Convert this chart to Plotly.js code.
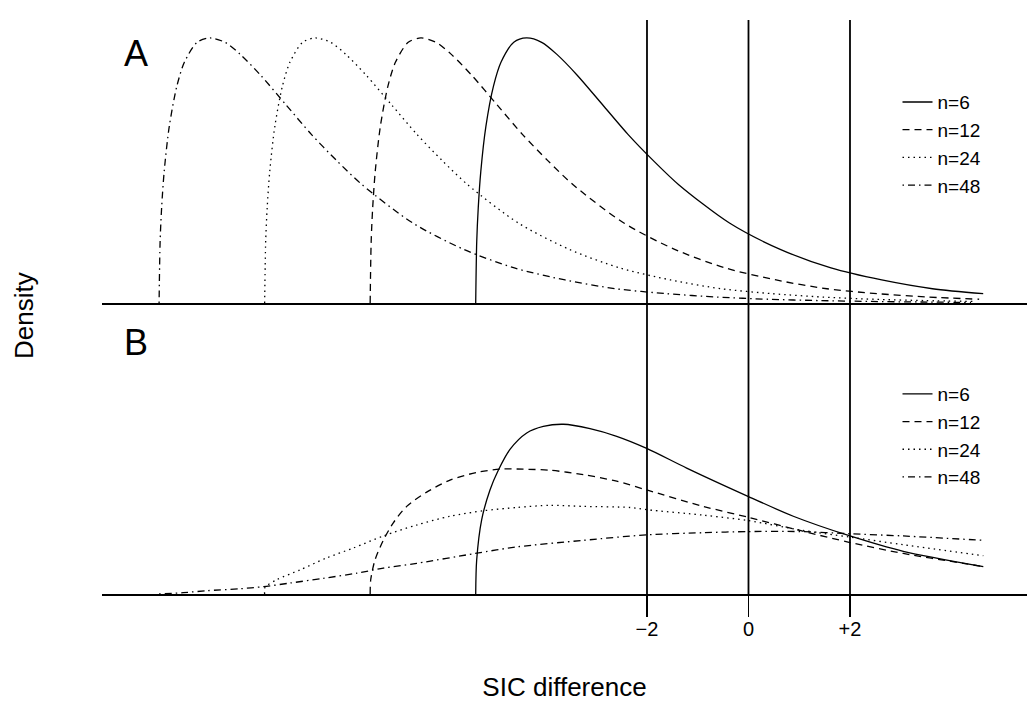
<!DOCTYPE html>
<html>
<head>
<meta charset="utf-8">
<script src="https://cdn.plot.ly/plotly-3.0.1.min.js"></script>
<style>html,body{margin:0;padding:0;background:#fff;}#chart{width:1027px;height:702px;}</style>
</head>
<body>
<div id="chart"></div>
<script>
// ---------- data ----------
var seriesNames = ["n=6", "n=12", "n=24", "n=48"];
var tickValues = [-2, 0, 2];
var tickLabels = ["\u22122", "0", "+2"];

// Panel A densities (same profile for every n, shifted start)
var densA = [0, 0.056, 0.087, 0.120, 0.161, 0.198, 0.220, 0.238, 0.242, 0.238, 0.227, 0.208, 0.181, 0.154, 0.130, 0.108, 0.073, 0.049, 0.032, 0.021, 0.013, 0.0085, 0.0054, 0.0034, 0.0022, 0.0014, 0.0009, 0.0005];
var xA6  = [-5.375, -5.355, -5.325, -5.275, -5.175, -5.025, -4.875, -4.625, -4.375, -4.075, -3.775, -3.375, -2.875, -2.375, -1.875, -1.375, -0.375, 0.625, 1.625, 2.625, 3.625, 4.625];
var xA12 = [-7.455, -7.435, -7.405, -7.355, -7.255, -7.105, -6.955, -6.705, -6.455, -6.155, -5.855, -5.455, -4.955, -4.455, -3.955, -3.455, -2.455, -1.455, -0.455, 0.545, 1.545, 2.545, 3.545, 4.545];
var xA24 = [-9.534, -9.514, -9.484, -9.434, -9.334, -9.184, -9.034, -8.784, -8.534, -8.234, -7.934, -7.534, -7.034, -6.534, -6.034, -5.534, -4.534, -3.534, -2.534, -1.534, -0.534, 0.466, 1.466, 2.466, 3.466, 4.466];
var xA48 = [-11.614, -11.594, -11.564, -11.514, -11.414, -11.264, -11.114, -10.864, -10.614, -10.314, -10.014, -9.614, -9.114, -8.614, -8.114, -7.614, -6.614, -5.614, -4.614, -3.614, -2.614, -1.614, -0.614, 0.386, 1.386, 2.386, 3.386, 4.386];
var yA6  = densA.slice(0, 22);
var yA12 = densA.slice(0, 24);
var yA24 = densA.slice(0, 26);
var yA48 = densA.slice(0, 28);

// Panel B
var xB6  = [-5.375, -5.356, -5.257, -5.094, -4.930, -4.700, -4.370, -4.043, -3.649, -3.123, -2.597, -2.006, -1.218, 0.000, 0.883, 2.000, 3.050, 4.627];
var yB6  = [0, 0.031, 0.068, 0.095, 0.113, 0.132, 0.147, 0.153, 0.155, 0.151, 0.144, 0.133, 0.115, 0.089, 0.071, 0.053, 0.039, 0.025];
var xB12 = [-7.455, -7.444, -7.360, -7.196, -6.999, -6.735, -6.341, -5.882, -5.356, -4.897, -4.437, -3.911, -3.255, -2.597, -2.006, -0.891, 0.000, 1.015, 2.000, 3.050, 4.233, 4.627];
var yB12 = [0, 0.013, 0.031, 0.049, 0.065, 0.080, 0.093, 0.104, 0.111, 0.114, 0.114, 0.113, 0.109, 0.103, 0.095, 0.080, 0.070, 0.058, 0.047, 0.037, 0.028, 0.025];
var xB24 = [-9.534, -9.527, -9.297, -8.837, -8.311, -7.787, -7.196, -6.538, -5.882, -5.226, -4.567, -3.911, -3.255, -2.335, -2.006, -0.891, 0.000, 1.080, 2.000, 3.050, 4.627];
var yB24 = [0, 0.006, 0.013, 0.022, 0.033, 0.042, 0.053, 0.063, 0.071, 0.076, 0.079, 0.081, 0.080, 0.079, 0.077, 0.072, 0.067, 0.058, 0.052, 0.045, 0.035];
var xB48 = [-11.614, -11.137, -10.676, -10.020, -9.561, -9.035, -8.378, -7.720, -7.196, -6.538, -5.389, -4.567, -3.255, -2.006, -0.891, 0.000, 1.015, 2.000, 3.050, 4.627];
var yB48 = [0, 0.0012, 0.003, 0.0048, 0.0067, 0.010, 0.0143, 0.019, 0.0236, 0.028, 0.037, 0.043, 0.049, 0.054, 0.056, 0.057, 0.057, 0.055, 0.053, 0.049];

// ---------- styles ----------
var dashes = ["solid", "7px,5px", "1.5px,4px", "1.5px,4px,7px,4px"];
var FONT = "Liberation Sans, Arial, Helvetica, sans-serif";

function mk(x, y, i, xa, ya, leg) {
  return {
    type: "scatter", mode: "lines", x: x, y: y, name: seriesNames[i],
    xaxis: xa, yaxis: ya, legend: leg,
    line: {color: "#000", width: 1.3, dash: dashes[i], shape: "spline", smoothing: 0.8},
    hoverinfo: "skip"
  };
}

var traces = [
  mk(xA6, yA6, 0, "x2", "y", "legend"),
  mk(xA12, yA12, 1, "x2", "y", "legend"),
  mk(xA24, yA24, 2, "x2", "y", "legend"),
  mk(xA48, yA48, 3, "x2", "y", "legend"),
  mk(xB6, yB6, 0, "x", "y2", "legend2"),
  mk(xB12, yB12, 1, "x", "y2", "legend2"),
  mk(xB24, yB24, 2, "x", "y2", "legend2"),
  mk(xB48, yB48, 3, "x", "y2", "legend2")
];

var yRange = [0, 0.2584];
var shapes = tickValues.map(function (v) {
  return {type: "line", xref: "x", yref: "paper", x0: v, x1: v, y0: 0, y1: 1,
          line: {color: "#000", width: 1.8}};
});

var layout = {
  width: 1027, height: 702,
  margin: {l: 102, r: 0, t: 20, b: 108},
  paper_bgcolor: "#fff", plot_bgcolor: "#fff",
  font: {family: FONT, color: "#000"},
  showlegend: true,
  xaxis: {
    range: [-12.739, 5.488], anchor: "y2",
    showline: true, linecolor: "#000", linewidth: 1.8,
    ticks: "outside", ticklen: 21, tickwidth: 1.8, tickcolor: "#000",
    tickvals: tickValues, ticktext: tickLabels, tickfont: {size: 20, family: FONT},
    ticklabelstandoff: -5,
    showgrid: false, zeroline: false,
    title: {text: "SIC difference", font: {size: 26, family: FONT}, standoff: 42}
  },
  xaxis2: {
    matches: "x", anchor: "y",
    showline: true, linecolor: "#000", linewidth: 1.8,
    showticklabels: false, ticks: "", showgrid: false, zeroline: false
  },
  yaxis: {domain: [0.507, 1], range: yRange, showgrid: false, zeroline: false,
          showticklabels: false, ticks: "", showline: false},
  yaxis2: {domain: [0, 0.493], range: yRange, showgrid: false, zeroline: false,
           showticklabels: false, ticks: "", showline: false},
  legend: {x: 0.860, y: 0.890, xanchor: "left", yanchor: "top",
           font: {size: 19, family: FONT}, bgcolor: "rgba(0,0,0,0)"},
  legend2: {x: 0.860, y: 0.3815, xanchor: "left", yanchor: "top",
            font: {size: 19, family: FONT}, bgcolor: "rgba(0,0,0,0)"},
  shapes: shapes,
  annotations: [
    {text: "A", xref: "paper", yref: "paper", x: 0.0368, y: 0.9425, showarrow: false,
     font: {size: 36, family: FONT}, xanchor: "center", yanchor: "middle"},
    {text: "B", xref: "paper", yref: "paper", x: 0.0368, y: 0.4373, showarrow: false,
     font: {size: 36, family: FONT}, xanchor: "center", yanchor: "middle"},
    {text: "Density", xref: "paper", yref: "paper", x: -0.0843, y: 0.4843, showarrow: false,
     textangle: -90, font: {size: 26, family: FONT}, xanchor: "center", yanchor: "middle"}
  ]
};

Plotly.newPlot("chart", traces, layout, {displayModeBar: false, staticPlot: true});
</script>
</body>
</html>
